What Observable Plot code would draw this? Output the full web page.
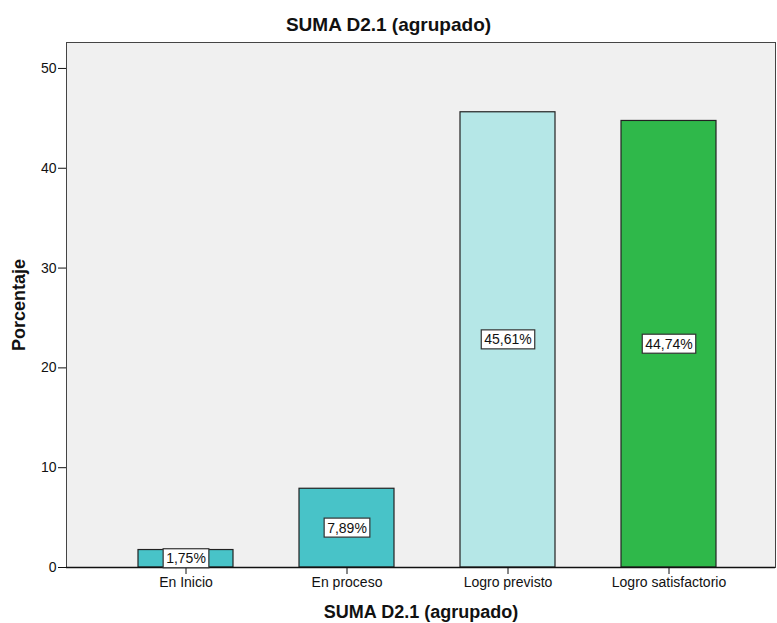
<!DOCTYPE html>
<html>
<head>
<meta charset="utf-8">
<script src="https://cdn.jsdelivr.net/npm/d3@7"></script>
<script src="https://cdn.jsdelivr.net/npm/@observablehq/plot@0.6"></script>
<style>
  html, body { margin: 0; padding: 0; background: #fff; }
  #wrap { position: relative; width: 777px; height: 623px; font-family: "Liberation Sans", Arial, sans-serif; color: #111; }
  #wrap svg { position: absolute; left: 0; top: 0; }
  .t { position: absolute; font-weight: bold; white-space: nowrap; }
  #title { left: 0; width: 777px; top: 14px; text-align: center; font-size: 19px; }
  #xlabel { left: 66px; width: 710px; top: 602px; text-align: center; font-size: 18px; }
  #ylabel { left: 19px; top: 305px; font-size: 18px; transform: translate(-50%, -50%) rotate(-90deg); }
</style>
</head>
<body>
<div id="wrap">
  <div class="t" id="title">SUMA D2.1 (agrupado)</div>
  <div class="t" id="xlabel">SUMA D2.1 (agrupado)</div>
  <div class="t" id="ylabel">Porcentaje</div>
</div>
<script>
const categories = ["En Inicio", "En proceso", "Logro previsto", "Logro satisfactorio"];
const percentages = [1.75, 7.89, 45.61, 44.74];
const valueLabels = ["1,75%", "7,89%", "45,61%", "44,74%"];
const barColors = ["#48c3c8", "#48c3c8", "#b5e7e7", "#2fb84a"];
const yTicks = [0, 10, 20, 30, 40, 50];

const data = categories.map((c, i) => ({cat: c, value: percentages[i], label: valueLabels[i]}));

const chart = Plot.plot({
  width: 777,
  height: 623,
  marginTop: 42,
  marginBottom: 56,
  marginLeft: 66,
  marginRight: 2,
  style: {fontFamily: "'Liberation Sans', Arial, sans-serif", fontSize: "14px", color: "#111", background: "transparent"},
  x: {domain: categories, range: [136, 718], paddingInner: 0.407, paddingOuter: 0, label: null},
  y: {domain: [0, 52.6], label: null},
  color: {domain: categories, range: barColors},
  marks: [
    Plot.frame({fill: "#f0f0f0", stroke: "#444"}),
    Plot.barY(data, {x: "cat", y: "value", fill: "cat", stroke: "#222", strokeWidth: 1.2}),
    Plot.ruleY([0], {stroke: "#111", strokeWidth: 1.3}),
    Plot.axisY({ticks: yTicks, tickSize: 8, tickPadding: 2, label: null, fontSize: 14, stroke: "#111", fill: "#111"}),
    Plot.axisX({tickSize: 7, tickPadding: 3, label: null, fontSize: 14, stroke: "#111", fill: "#111"}),
    Plot.text(data, {x: "cat", y: d => d.value / 2, text: "label", fontSize: 14, fill: "#111", className: "vlabel"})
  ]
});

document.getElementById("wrap").appendChild(chart);

// draw boxes behind the value labels
chart.querySelectorAll(".vlabel text").forEach(t => {
  const b = t.getBBox();
  const r = document.createElementNS("http://www.w3.org/2000/svg", "rect");
  r.setAttribute("x", b.x - 3);
  r.setAttribute("y", b.y - 1.5);
  r.setAttribute("width", b.width + 6);
  r.setAttribute("height", b.height + 3);
  r.setAttribute("fill", "#fff");
  r.setAttribute("stroke", "#333");
  r.setAttribute("stroke-width", "1.2");
  const tr = t.getAttribute("transform");
  if (tr) r.setAttribute("transform", tr);
  t.parentNode.insertBefore(r, t);
});
</script>
</body>
</html>
